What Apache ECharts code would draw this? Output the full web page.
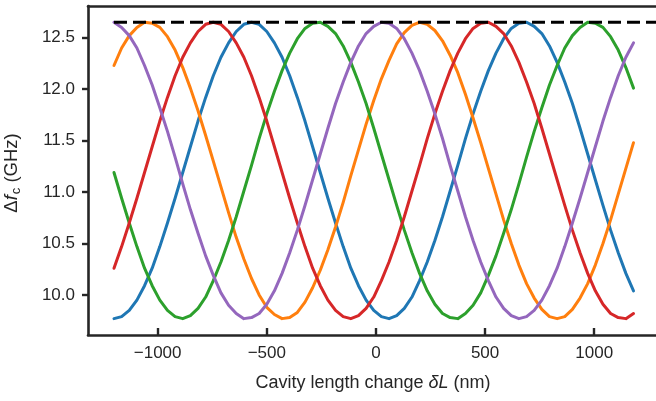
<!DOCTYPE html>
<html>
<head>
<meta charset="utf-8">
<script src="https://cdn.jsdelivr.net/npm/echarts@6/dist/echarts.min.js"></script>
<style>
  html, body { margin: 0; padding: 0; background: #ffffff; }
  #chart { width: 656px; height: 401px; }
</style>
</head>
<body>
<div id="chart"></div>
<script>
// Cavity length change δL (nm)
const xs = [-1200, -1165, -1130, -1095, -1060, -1025, -990, -955, -920, -885, -850, -815, -780, -745, -710, -675, -640, -605, -570, -535, -500, -465, -430, -395, -360, -325, -290, -255, -220, -185, -150, -115, -80, -45, -10, 25, 60, 95, 130, 165, 200, 235, 270, 305, 340, 375, 410, 445, 480, 515, 550, 585, 620, 655, 690, 725, 760, 795, 830, 865, 900, 935, 970, 1005, 1040, 1075, 1110, 1145, 1180];

// Δf_c (GHz) for each of the five modes
const modeBlue = [9.77, 9.79, 9.85, 9.95, 10.09, 10.26, 10.47, 10.70, 10.94, 11.19, 11.44, 11.69, 11.92, 12.13, 12.31, 12.45, 12.56, 12.63, 12.65, 12.63, 12.56, 12.45, 12.31, 12.13, 11.92, 11.69, 11.44, 11.19, 10.94, 10.70, 10.47, 10.26, 10.09, 9.95, 9.85, 9.79, 9.77, 9.80, 9.87, 9.98, 10.14, 10.32, 10.53, 10.76, 11.01, 11.26, 11.52, 11.76, 11.98, 12.18, 12.35, 12.49, 12.59, 12.64, 12.65, 12.61, 12.54, 12.42, 12.26, 12.07, 11.86, 11.62, 11.37, 11.12, 10.87, 10.63, 10.41, 10.21, 10.04];
const modeOrange = [12.23, 12.40, 12.52, 12.60, 12.65, 12.64, 12.60, 12.51, 12.38, 12.21, 12.01, 11.79, 11.55, 11.30, 11.05, 10.80, 10.56, 10.35, 10.16, 10.00, 9.88, 9.81, 9.77, 9.78, 9.83, 9.93, 10.07, 10.24, 10.44, 10.66, 10.90, 11.16, 11.41, 11.66, 11.89, 12.10, 12.28, 12.44, 12.55, 12.62, 12.65, 12.63, 12.57, 12.47, 12.33, 12.16, 11.95, 11.72, 11.48, 11.23, 10.98, 10.73, 10.50, 10.29, 10.11, 9.97, 9.86, 9.79, 9.77, 9.79, 9.86, 9.97, 10.11, 10.29, 10.50, 10.73, 10.98, 11.23, 11.48];
const modeGreen = [11.19, 10.94, 10.70, 10.47, 10.26, 10.09, 9.95, 9.85, 9.79, 9.77, 9.80, 9.87, 9.98, 10.14, 10.32, 10.53, 10.76, 11.01, 11.26, 11.52, 11.76, 11.98, 12.18, 12.35, 12.49, 12.59, 12.64, 12.65, 12.61, 12.54, 12.42, 12.26, 12.07, 11.86, 11.62, 11.37, 11.12, 10.87, 10.63, 10.41, 10.21, 10.04, 9.91, 9.82, 9.78, 9.77, 9.82, 9.90, 10.02, 10.19, 10.38, 10.60, 10.83, 11.08, 11.34, 11.59, 11.82, 12.04, 12.23, 12.40, 12.52, 12.60, 12.65, 12.64, 12.60, 12.51, 12.38, 12.21, 12.01];
const modeRed = [10.26, 10.47, 10.70, 10.94, 11.19, 11.44, 11.69, 11.92, 12.13, 12.31, 12.45, 12.56, 12.63, 12.65, 12.63, 12.56, 12.45, 12.31, 12.13, 11.92, 11.69, 11.44, 11.19, 10.94, 10.70, 10.47, 10.26, 10.09, 9.95, 9.85, 9.79, 9.77, 9.80, 9.87, 9.98, 10.14, 10.32, 10.53, 10.76, 11.01, 11.26, 11.52, 11.76, 11.98, 12.18, 12.35, 12.49, 12.59, 12.64, 12.65, 12.61, 12.54, 12.42, 12.26, 12.07, 11.86, 11.62, 11.37, 11.12, 10.87, 10.63, 10.41, 10.21, 10.04, 9.91, 9.82, 9.78, 9.77, 9.82];
const modePurple = [12.65, 12.60, 12.52, 12.40, 12.23, 12.04, 11.82, 11.59, 11.34, 11.08, 10.83, 10.60, 10.38, 10.19, 10.02, 9.90, 9.82, 9.77, 9.78, 9.82, 9.91, 10.04, 10.21, 10.41, 10.63, 10.87, 11.12, 11.37, 11.62, 11.86, 12.07, 12.26, 12.42, 12.54, 12.61, 12.65, 12.64, 12.59, 12.49, 12.35, 12.18, 11.98, 11.76, 11.52, 11.26, 11.01, 10.76, 10.53, 10.32, 10.14, 9.98, 9.87, 9.80, 9.77, 9.79, 9.85, 9.95, 10.09, 10.26, 10.47, 10.70, 10.94, 11.19, 11.44, 11.69, 11.92, 12.13, 12.31, 12.45];

// Upper bound of the tuning range (dashed reference)
const maxShift = 12.65;
const maxShiftSpan = [-1200, 1283];

// Tick positions
const xTicks = [-1000, -500, 0, 500, 1000];
const yTicks = [10.0, 10.5, 11.0, 11.5, 12.0, 12.5];

const ink = '#262626';
const font = '"Liberation Sans", Arial, Helvetica, sans-serif';

const modes = [
  { name: 'mode 1', color: '#1f77b4', values: modeBlue },
  { name: 'mode 2', color: '#ff7f0e', values: modeOrange },
  { name: 'mode 3', color: '#2ca02c', values: modeGreen },
  { name: 'mode 4', color: '#d62728', values: modeRed },
  { name: 'mode 5', color: '#9467bd', values: modePurple }
];

const series = modes.map(m => ({
  name: m.name,
  type: 'line',
  xAxisIndex: 0,
  yAxisIndex: 0,
  showSymbol: false,
  silent: true,
  lineStyle: { color: m.color, width: 3, cap: 'round', join: 'round' },
  data: xs.map((x, i) => [x, m.values[i]])
}));

series.push({
  name: 'max',
  type: 'line',
  showSymbol: false,
  silent: true,
  z: 5,
  lineStyle: { color: '#000000', width: 3.2, type: [13, 6] },
  data: maxShiftSpan.map(x => [x, maxShift])
});

const chart = echarts.init(document.getElementById('chart'), null, { renderer: 'canvas' });
chart.setOption({
  animation: false,
  backgroundColor: '#ffffff',
  grid: { left: 88, right: 0, top: 6, bottom: 66, containLabel: false },
  xAxis: [
    {
      type: 'value',
      position: 'bottom',
      min: -1319,
      max: 1283,
      axisLine: { show: true, onZero: false, lineStyle: { color: ink, width: 2.6 } },
      axisTick: { show: true, inside: true, length: 7, lineStyle: { color: ink, width: 2.4 }, customValues: xTicks },
      axisLabel: {
        show: true,
        customValues: xTicks,
        margin: 10,
        fontSize: 17,
        fontFamily: font,
        color: ink,
        formatter: v => (v < 0 ? '\u2212' + Math.abs(v) : String(v))
      },
      splitLine: { show: false }
    },
    {
      type: 'value',
      position: 'top',
      min: -1319,
      max: 1283,
      axisLine: { show: true, onZero: false, lineStyle: { color: ink, width: 2.6 } },
      axisTick: { show: false },
      axisLabel: { show: false },
      splitLine: { show: false }
    }
  ],
  yAxis: {
    type: 'value',
    min: 9.611,
    max: 12.808,
    axisLine: { show: true, onZero: false, lineStyle: { color: ink, width: 2.6 } },
    axisTick: { show: true, inside: false, length: 6, lineStyle: { color: ink, width: 2.4 }, customValues: yTicks },
    axisLabel: {
      show: true,
      customValues: yTicks,
      margin: 13,
      fontSize: 17,
      fontFamily: font,
      color: ink,
      formatter: v => Number(v).toFixed(1)
    },
    splitLine: { show: false }
  },
  graphic: [
    {
      type: 'text',
      x: 373,
      y: 383,
      silent: true,
      style: {
        text: '{n|Cavity length change }{i|δL}{n| (nm)}',
        align: 'center',
        verticalAlign: 'middle',
        fill: ink,
        rich: {
          n: { fontSize: 18, fontFamily: font, fill: ink },
          i: { fontSize: 18, fontFamily: font, fontStyle: 'italic', fill: ink }
        }
      }
    },
    {
      type: 'text',
      x: 12,
      y: 173,
      rotation: Math.PI / 2,
      silent: true,
      style: {
        text: '{n|Δ}{i|f}{s|c}{n| (GHz)}',
        align: 'center',
        verticalAlign: 'middle',
        fill: ink,
        rich: {
          n: { fontSize: 18.5, fontFamily: font, fill: ink, lineHeight: 22, verticalAlign: 'middle' },
          i: { fontSize: 18.5, fontFamily: font, fontStyle: 'italic', fill: ink, lineHeight: 22, verticalAlign: 'middle' },
          s: { fontSize: 13, fontFamily: font, fill: ink, lineHeight: 22, verticalAlign: 'bottom', padding: [0, 0, 0, 1] }
        }
      }
    }
  ],
  series: series
});
</script>
</body>
</html>
